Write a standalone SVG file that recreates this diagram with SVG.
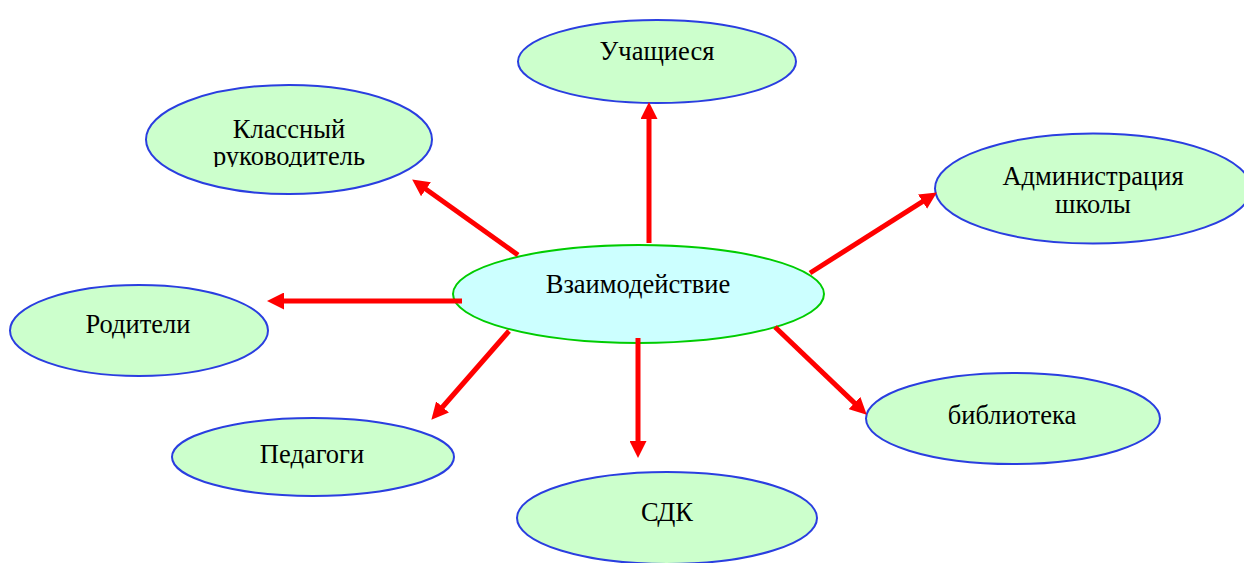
<svg xmlns="http://www.w3.org/2000/svg" width="1244" height="563" viewBox="0 0 1244 563">
<style>
.n{fill:#ccffcc;stroke:#2a3ee0;stroke-width:2}
.c{fill:#ccffff;stroke:#00cc00;stroke-width:2}
text{font-family:"Liberation Serif","Times New Roman",serif;font-size:26.5px;fill:#000;text-anchor:middle}
.a{stroke:#ff0000;stroke-width:5;fill:none;marker-end:url(#ah)}
</style>
<defs>
<marker id="ah" markerUnits="userSpaceOnUse" markerWidth="17" markerHeight="17" refX="6" refY="8.5" orient="auto">
<path d="M0,0 L17,8.5 L0,17 z" fill="#ff0000"/>
</marker>
<clipPath id="kc"><rect x="140" y="100" width="300" height="67"/></clipPath>
</defs>
<rect width="1244" height="563" fill="#ffffff"/>
<g id="n-uchashchiesya"><ellipse class="n" cx="657" cy="61.5" rx="139" ry="41.5"/><text x="657" y="60">Учащиеся</text></g>
<g id="n-klassny"><ellipse class="n" cx="289" cy="139.5" rx="143" ry="54.5"/><g clip-path="url(#kc)"><text x="289" y="138">Классный</text><text x="289" y="165">руководитель</text></g></g>
<g id="n-admin"><ellipse class="n" cx="1093" cy="188.5" rx="158" ry="55"/><text x="1093" y="185">Администрация</text><text x="1093" y="213">школы</text></g>
<g id="n-center"><ellipse class="c" cx="638.5" cy="294" rx="185.5" ry="49"/><text x="638" y="293">Взаимодействие</text></g>
<g id="n-roditeli"><ellipse class="n" cx="139" cy="330.5" rx="129" ry="45.5"/><text x="138" y="333">Родители</text></g>
<g id="n-pedagogi"><ellipse class="n" cx="313" cy="457" rx="141" ry="39"/><text x="312" y="463">Педагоги</text></g>
<g id="n-sdk"><ellipse class="n" cx="667" cy="518" rx="150" ry="46"/><text x="667" y="521">СДК</text></g>
<g id="n-biblioteka"><ellipse class="n" cx="1013" cy="418.5" rx="147" ry="45.5"/><text x="1012" y="424">библиотека</text></g>
<g id="connectors">
<line class="a" x1="649" y1="243" x2="649" y2="113"/>
<line class="a" x1="518" y1="255" x2="421.1" y2="185.8"/>
<line class="a" x1="810" y1="273" x2="927.6" y2="198.4"/>
<line class="a" x1="462" y1="301" x2="278" y2="301"/>
<line class="a" x1="509" y1="331" x2="438.6" y2="411.5"/>
<line class="a" x1="638" y1="338" x2="638" y2="447"/>
<line class="a" x1="775" y1="327" x2="858.8" y2="407.1"/>
</g>
</svg>
